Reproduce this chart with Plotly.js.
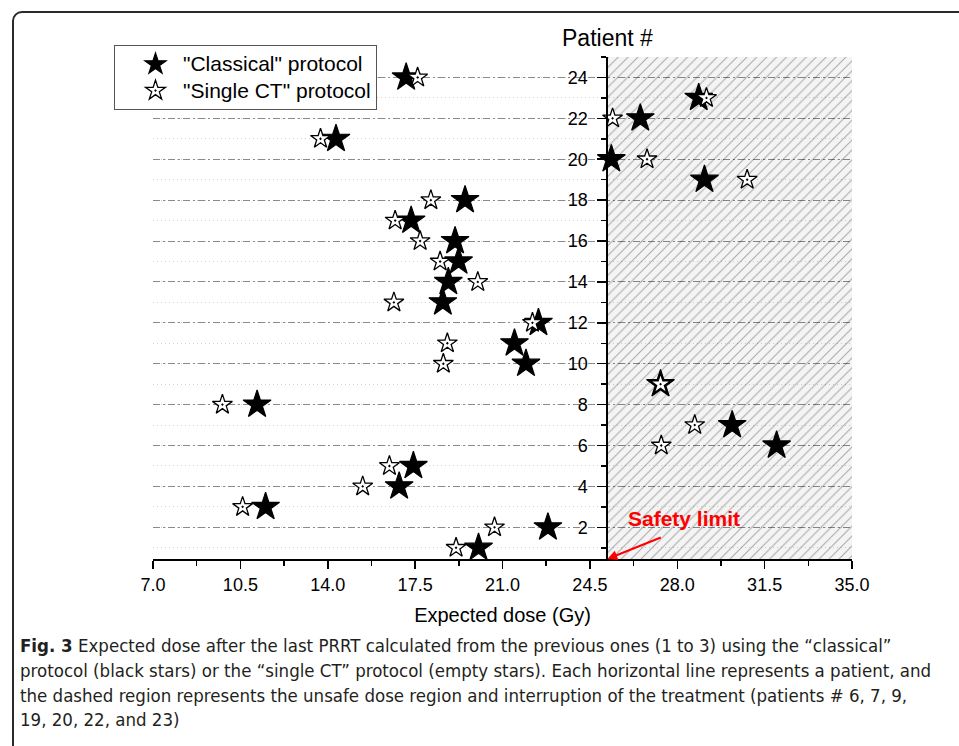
<!DOCTYPE html>
<html>
<head>
<meta charset="utf-8">
<script src="https://cdn.plot.ly/plotly-3.0.1.min.js"></script>
<style>
  html, body { margin: 0; padding: 0; background: #fff; overflow: hidden; }
  #chart { width: 959px; height: 746px; position: absolute; left: 0; top: 0; }
  #frame { position: absolute; left: 12px; top: 11px; width: 1000px; height: 800px;
           border: 2px solid #2a2a2a; border-top-left-radius: 10px; pointer-events: none; box-sizing: border-box; }
</style>
</head>
<body>
<div id="chart"></div>
<div id="frame"></div>
<script>
// ---- data ----
const patients = [1, 2, 3, 4, 5, 6, 7, 8, 9, 10, 11, 12, 13, 14, 15, 16, 17, 18, 19, 20, 21, 22, 23, 24];
const classicalDose = [20.04, 22.82, 11.51, 16.86, 17.43, 31.98, 30.20, 11.17, 27.33, 21.94, 21.48, 22.44,
                       18.61, 18.83, 19.24, 19.10, 17.34, 19.50, 29.09, 25.36, 14.33, 26.52, 28.86, 17.14];
const singleCTDose  = [19.14, 20.68, 10.59, 15.40, 16.47, 27.36, 28.70, 9.78, 27.33, 18.63, 18.79, 22.20,
                       16.65, 20.01, 18.50, 17.70, 16.70, 18.13, 30.80, 26.79, 13.71, 25.41, 29.17, 17.60];
const safetyLimit = 25.2;
const xRange = [7, 35];
const yRange = [0.45, 25];
const xTickVals = [7.0, 10.5, 14.0, 17.5, 21.0, 24.5, 28.0, 31.5, 35.0];
const yTickVals = [2, 4, 6, 8, 10, 12, 14, 16, 18, 20, 22, 24];
const seriesNames = ['"Classical" protocol', '"Single CT" protocol'];
const captionLines = [
  '<b>Fig. 3</b> Expected dose after the last PRRT calculated from the previous ones (1 to 3) using the \u201cclassical\u201d',
  'protocol (black stars) or the \u201csingle CT\u201d protocol (empty stars). Each horizontal line represents a patient, and',
  'the dashed region represents the unsafe dose region and interruption of the treatment (patients # 6, 7, 9,',
  '19, 20, 22, and 23)'
];

// ---- layout helpers ----
const W = 959, H = 746;
const M = { l: 153, r: 107, t: 57, b: 187 };
const pw = W - M.l - M.r, ph = H - M.t - M.b;
const px = x => (x - M.l) / pw;
const py = y => (H - M.b - y) / ph;
const FONT = "'Liberation Sans', Arial, sans-serif";
const CAPFONT = "'Liberation Sans Narrow', 'DejaVu Sans Condensed', sans-serif";
const legendLabel = s => '<span style="font-size:21px">' + s + '</span>';

const unsafe = {
  x: [safetyLimit, xRange[1], xRange[1], safetyLimit, safetyLimit],
  y: [yRange[0], yRange[0], yRange[1], yRange[1], yRange[0]],
  mode: 'lines', fill: 'toself', line: { width: 0 },
  fillcolor: 'rgba(0,0,0,0.045)',
  fillpattern: { shape: '/', size: 7, solidity: 0.15, fgcolor: 'rgba(0,0,0,0.3)', bgcolor: 'rgba(0,0,0,0.045)' },
  hoverinfo: 'skip', showlegend: false
};

const classical = {
  x: classicalDose, y: patients, mode: 'markers', name: legendLabel(seriesNames[0]),
  marker: { symbol: 'star', size: 21, color: '#000', line: { color: '#000', width: 1.2 } }
};
const singleCT = {
  x: singleCTDose, y: patients, mode: 'markers', name: legendLabel(seriesNames[1]),
  marker: { symbol: 'star-dot', size: 15, color: '#fff', line: { color: '#000', width: 1.3 } }
};

const annotations = [
  { xref: 'paper', yref: 'paper', x: (safetyLimit - xRange[0]) / (xRange[1] - xRange[0]), y: py(38),
    text: 'Patient #', showarrow: false, xanchor: 'center', yanchor: 'middle',
    font: { family: FONT, size: 23, color: '#000' } },
  { xref: 'paper', yref: 'paper', x: px(684), y: py(518), text: '<b>Safety limit</b>', showarrow: false,
    xanchor: 'center', yanchor: 'middle', font: { family: FONT, size: 21, color: '#ff0000' } },
  { xref: 'x', yref: 'y', x: safetyLimit, y: yRange[0], axref: 'x', ayref: 'y',
    ax: safetyLimit + 2.2, ay: yRange[0] + 1.08, text: '', showarrow: true,
    arrowhead: 2, arrowsize: 1, arrowwidth: 2, arrowcolor: '#ff0000', standoff: 0 }
];
const capY = [645, 670, 695, 719];
captionLines.forEach((t, i) => annotations.push({
  xref: 'paper', yref: 'paper', x: px(18), y: py(capY[i]), xanchor: 'left', yanchor: 'middle',
  text: t, showarrow: false, align: 'left',
  font: { family: CAPFONT, size: 18.5, color: '#231f20' }
}));

const layout = {
  width: W, height: H, margin: M,
  paper_bgcolor: 'rgba(0,0,0,0)', plot_bgcolor: '#fff',
  font: { family: FONT, color: '#000' },
  showlegend: true,
  legend: {
    x: px(114), y: py(45), xanchor: 'left', yanchor: 'top',
    bgcolor: '#fff', bordercolor: '#555', borderwidth: 1,
    font: { family: FONT, size: 18, color: '#000' }, itemwidth: 45, indentation: 13, tracegroupgap: 0
  },
  xaxis: {
    range: xRange, tickvals: xTickVals, ticktext: xTickVals.map(v => v.toFixed(1)),
    showline: true, linewidth: 2, linecolor: '#000', ticks: 'outside', ticklen: 8, tickwidth: 1.5, tickcolor: '#000',
    showgrid: false, zeroline: false, tickfont: { family: FONT, size: 18, color: '#000' },
    minor: { dtick: 1.75, tick0: 7, ticks: 'outside', ticklen: 5, tickwidth: 1.5, tickcolor: '#000', showgrid: false },
    title: { text: 'Expected dose (Gy)', font: { family: FONT, size: 20, color: '#000' }, standoff: 14 }
  },
  yaxis: {
    range: yRange, anchor: 'free', position: (safetyLimit - xRange[0]) / (xRange[1] - xRange[0]),
    tickvals: yTickVals, showline: true, linewidth: 2, linecolor: '#000',
    ticks: 'outside', ticklen: 9, tickwidth: 1.5, tickcolor: '#000', zeroline: false, ticklabelstandoff: 6,
    tickfont: { family: FONT, size: 18, color: '#000' },
    showgrid: true, gridcolor: '#8a8a8a', gridwidth: 1, griddash: '7px,3px,2px,3px',
    minor: { dtick: 1, tick0: 1, ticks: 'outside', ticklen: 5, tickwidth: 1.5, tickcolor: '#000',
             showgrid: true, gridcolor: '#d2d2d2', gridwidth: 1, griddash: '1px,3px' }
  },
  annotations: annotations
};

Plotly.newPlot('chart', [unsafe, classical, singleCT], layout, { displayModeBar: false, staticPlot: true });
</script>
</body>
</html>
